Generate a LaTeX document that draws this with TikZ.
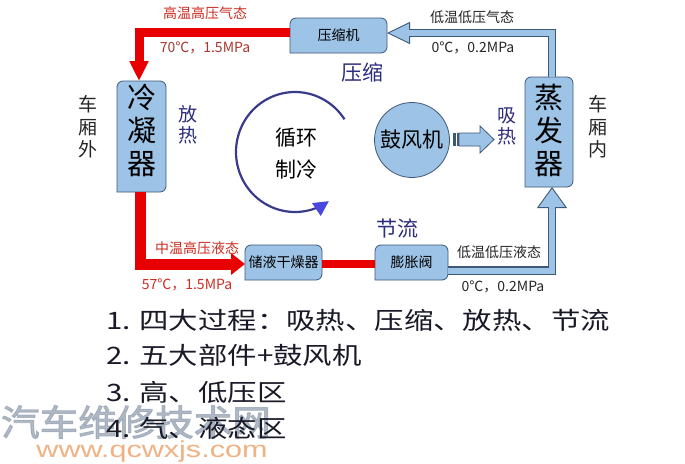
\documentclass[tikz,border=0pt]{standalone}
\usepackage{fontspec}
\usepackage{graphicx}
\setmainfont{Noto Sans CJK SC}
\newfontfamily\wmfont[FakeBold=2.5]{Noto Sans CJK SC}
\newfontfamily\latinfont{Liberation Sans}
\usetikzlibrary{arrows.meta,calc,backgrounds}
\definecolor{boxblue}{RGB}{157,195,230}
\definecolor{boxline}{RGB}{62,88,120}
\definecolor{pipered}{RGB}{232,0,0}
\definecolor{navytxt}{RGB}{45,45,125}
\definecolor{arcnavy}{RGB}{58,58,140}
\definecolor{arcblue}{RGB}{72,72,225}
\definecolor{redtxt}{RGB}{205,45,35}
\definecolor{darkred}{RGB}{170,55,45}
\definecolor{wmgray}{RGB}{150,162,178}
\definecolor{wmorange}{RGB}{240,178,130}
\definecolor{listtxt}{RGB}{25,25,40}
\newcommand{\fsz}[2]{\fontsize{#1}{#2}\selectfont}
\newcommand{\hstr}[2]{\scalebox{#1}[1]{#2}}
\begin{document}
\begin{tikzpicture}[x=1pt,y=-1pt,
  boxn/.style={inner sep=0pt, outer sep=0pt},
  bigtxt/.style={font=\fsz{29}{33}, align=center, inner sep=0pt},
  redlbl/.style={font=\fsz{14}{16}, text=redtxt, inner sep=0pt},
  drlbl/.style={font=\fsz{14}{16}, text=darkred, inner sep=0pt},
  blklbl/.style={font=\fsz{14}{16}, text=black!85, inner sep=0pt},
  proc/.style={font=\fsz{21}{23}, text=navytxt, inner sep=0pt},
  procv/.style={font=\fsz{19}{21}, text=navytxt, align=center, inner sep=0pt},
  side/.style={font=\fsz{19}{22.5}, text=black!85, align=center, inner sep=0pt},
  listtx/.style={font=\fsz{24}{26}, text=listtxt, inner sep=0pt, anchor=west},
  redpipe/.style={draw=pipered, line join=miter},
  bpipeo/.style={draw=boxline, line width=8.5pt, line join=miter},
  bpipei/.style={draw=boxblue, line width=6pt, line join=miter},
  boxshape/.style={fill=boxblue, draw=boxline, line width=0.8pt}
]
\useasboundingbox (0,0) rectangle (685,463);

% watermark (behind)
\node[font=\wmfont\fsz{36}{38}, text=wmgray, opacity=0.75, inner sep=0pt] (wm1) at (136,422) {\hstr{1.07}{汽车维修技术网}};
\node[font=\latinfont\fsz{23}{25}, text=wmorange, inner sep=0pt] (wm2) at (152,452) {\hstr{1.33}{www.qcwxjs.com}};

% components
\node[boxn, minimum width=49pt, minimum height=111pt] (cond) at (141.5,136.5) {};
\node[boxn, minimum width=48pt, minimum height=110pt] (evap) at (549,132) {};
\node[boxn, minimum width=97pt, minimum height=35pt, font=\fsz{14}{16}] (comp) at (338.5,35.5) {压缩机};
\node[boxn, minimum width=77pt, minimum height=35pt, font=\fsz{14}{16}] (dryer) at (283.5,262.5) {储液干燥器};
\node[boxn, minimum width=73pt, minimum height=35pt, font=\fsz{14}{16}] (valve) at (411.5,262.5) {膨胀阀};
\node[bigtxt] (condt) at ([yshift=6.5pt]cond.center) {冷\\凝\\器};
\node[bigtxt] (evapt) at ([yshift=2pt]evap.center) {蒸\\发\\器};
\node[circle, fill=boxblue, draw=boxline, line width=0.8pt, minimum size=75pt, inner sep=0pt, font=\fsz{21}{23}] (blower) at (412,140) {鼓风机};

\begin{scope}[on background layer]
  \fill[white] (0,0) rectangle (685,463);
  \foreach \n in {cond,evap,comp,dryer,valve}{
    \path[boxshape] (\n.south west) [rounded corners=6pt] -- (\n.north west) -- (\n.north east) -- (\n.south east) [sharp corners] -- cycle;
  }
\end{scope}

% red (high pressure) pipes
\draw[redpipe, line width=9pt, -{Triangle[length=20pt,width=18pt]}] ([yshift=3pt]comp.west) -| ([xshift=-2.5pt]cond.north);
\draw[redpipe, line width=11pt, -{Triangle[length=14pt,width=21pt]}] ([xshift=-1.5pt]cond.south) |- ([yshift=-1.5pt]dryer.west);
\draw[redpipe, line width=8pt] ([yshift=-1.5pt]dryer.east) -- ([yshift=-1.5pt]valve.west);

% blue (low pressure) pipes
\draw[bpipeo, -{Triangle[length=23pt,width=22pt,fill=boxblue,line width=0.9pt]}] ([xshift=3pt]evap.north) |- ([yshift=2.5pt]comp.east);
\draw[bpipei, shorten >=22pt] ([xshift=3pt]evap.north) |- ([yshift=2.5pt]comp.east);
\draw[bpipeo, -{Triangle[length=21pt,width=30pt,fill=boxblue,line width=0.9pt]}] ([yshift=-8pt]valve.east) -| ([xshift=3pt]evap.south);
\draw[bpipei, shorten >=20pt] ([yshift=-8pt]valve.east) -| ([xshift=3pt]evap.south);

% blower air arrow
\fill[boxline] (453,133) rectangle (455.5,146);
\fill[boxline] (456.5,133) rectangle (459,146);
\draw[boxshape] (459,133) -- (480,133) -- (480,126) -- (494,139.5) -- (480,153) -- (480,146) -- (459,146) -- cycle;

% cycle arrow
\draw[line width=2.2pt, arcnavy, -{Triangle[length=15pt,width=15pt,color=arcblue,fill=arcblue]}]
  plot[domain=33:305, samples=100] ({295+59*cos(-\x)},{152+60*sin(-\x)});
\node[font=\fsz{21}{32}, align=center, inner sep=0pt] (cyc) at (296,154) {循环\\制冷};

% state labels
\node[redlbl] (l1) at (205,13) {高温高压气态};
\node[drlbl] (l2) at (205,48) {70℃，1.5MPa};
\node[blklbl] (l3) at (472,17) {低温低压气态};
\node[blklbl] (l4) at (473,48) {0℃，0.2MPa};
\node[redlbl] (l5) at (197,248) {中温高压液态};
\node[redlbl] (l6) at (187,285) {57℃，1.5MPa};
\node[blklbl] (l7) at (499,252) {低温低压液态};
\node[blklbl] (l8) at (503,287) {0℃，0.2MPa};

% process labels
\node[proc] (ys) at (362,72) {压缩};
\node[proc] (jl) at (397,228) {节流};
\node[procv] (fr) at (188,125) {放\\热};
\node[procv] (xr) at (507,126) {吸\\热};
\node[side] (out) at (88,127) {车\\厢\\外};
\node[side] (in) at (598,127) {车\\厢\\内};

% list
\node[listtx] (t1) at (106,320) {\hstr{1.225}{1. 四大过程：吸热、压缩、放热、节流}};
\node[listtx] (t2) at (106,355) {\hstr{1.225}{2. 五大部件+鼓风机}};
\node[listtx] (t3) at (106,392) {\hstr{1.225}{3. 高、低压区}};
\node[listtx] (t4) at (106,428) {\hstr{1.225}{4. 气、液态区}};
\end{tikzpicture}
\end{document}
